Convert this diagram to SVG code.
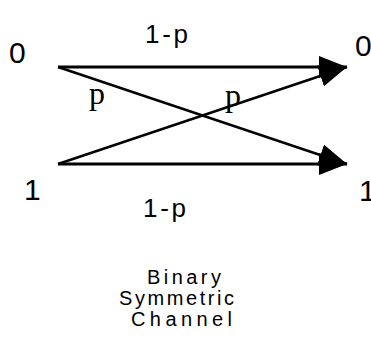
<svg xmlns="http://www.w3.org/2000/svg" width="371" height="352" viewBox="0 0 371 352">
<style>
.sans{font-family:"Liberation Sans",Arial,sans-serif;fill:#000}
.serif{font-family:"Liberation Serif","Times New Roman",serif;fill:#000}
.ln{stroke:#000;fill:none}
</style>
<defs>
<marker id="ah" markerUnits="userSpaceOnUse" markerWidth="30" markerHeight="24" refX="28" refY="11" orient="auto">
<path d="M0,0 L28,11 L0,22 Z" fill="#000"/>
</marker>
</defs>
<rect width="371" height="352" fill="#fff"/>
<g id="connectors">
<line class="ln" x1="58" y1="67" x2="347" y2="67" stroke-width="3" marker-end="url(#ah)"/>
<line class="ln" x1="58" y1="164" x2="347" y2="164" stroke-width="3" marker-end="url(#ah)"/>
<line class="ln" x1="58" y1="67" x2="347" y2="164" stroke-width="2.5" marker-end="url(#ah)"/>
<line class="ln" x1="58" y1="164" x2="347" y2="67" stroke-width="2.5" marker-end="url(#ah)"/>
</g>
<g id="in0"><text class="sans" x="9" y="63" font-size="30">0</text></g>
<g id="out0"><text class="sans" x="355" y="56" font-size="30">0</text></g>
<g id="in1"><text class="sans" x="24" y="200" font-size="30">1</text></g>
<g id="out1"><text class="sans" x="359" y="201" font-size="30">1</text></g>
<g id="label-top"><text class="sans" x="145" y="43" font-size="26" textLength="43" lengthAdjust="spacing">1-p</text></g>
<g id="label-bottom"><text class="sans" x="143" y="217" font-size="26" textLength="43" lengthAdjust="spacing">1-p</text></g>
<g id="label-p1"><text class="serif" x="89" y="104" font-size="32">p</text></g>
<g id="label-p2"><text class="serif" x="225" y="106" font-size="32">p</text></g>
<g id="caption">
<text class="sans" x="147" y="284" font-size="20" textLength="74" lengthAdjust="spacing">Binary</text>
<text class="sans" x="119" y="305" font-size="20" textLength="115" lengthAdjust="spacing">Symmetric</text>
<text class="sans" x="131" y="326" font-size="20" textLength="101" lengthAdjust="spacing">Channel</text>
</g>
</svg>
